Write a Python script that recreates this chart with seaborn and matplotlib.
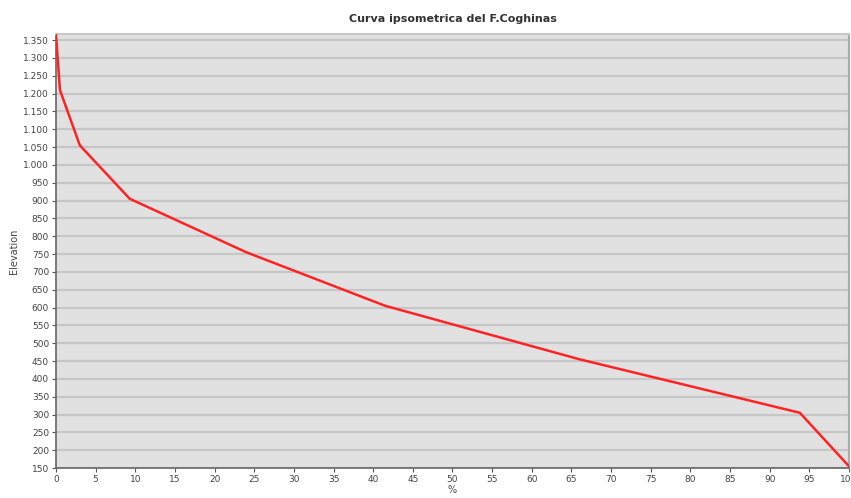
import matplotlib
matplotlib.use("Agg")
import matplotlib.pyplot as plt
import matplotlib.ticker as mticker
import numpy as np
import pandas as pd
import seaborn as sns

# Hypsometric curve of the Coghinas basin: share of area (%) above each elevation
area_pct = [0.0, 0.5, 3.0, 9.3, 24.0, 41.5, 66.0, 93.8, 100.0]
elevation = [1365, 1210, 1055, 905, 755, 605, 455, 305, 155]

x_ticks = list(range(0, 101, 5))
y_ticks = list(range(150, 1351, 50))

df = pd.DataFrame({"pct": area_pct, "elev": elevation})

sns.set_theme(style="white")
plt.rcParams["font.family"] = ["DejaVu Sans"]

fig = plt.figure(figsize=(8.51, 4.98), dpi=100)
ax = fig.add_axes([0.0658, 0.0602, 0.9318, 0.8715])
ax.set_facecolor("#e1e1e1")

for y in y_ticks:
    ax.axhline(y, color="#c6c6c6", lw=1.6, zorder=1)

sns.lineplot(data=df, x="pct", y="elev", ax=ax, color="#ff2222",
             lw=1.8, sort=False, zorder=3, clip_on=True)

ax.set_xlim(0, 100)
ax.set_ylim(150, 1367)
ax.set_xticks(x_ticks)
ax.set_yticks(y_ticks)
ax.yaxis.set_major_formatter(
    mticker.FuncFormatter(lambda v, _: f"{int(v):,}".replace(",", ".")))

ax.tick_params(axis="both", which="major", labelsize=6.5, colors="#555555",
               length=3, width=0.8, direction="out", pad=2,
               bottom=True, left=True)
for lbl in ax.get_xticklabels() + ax.get_yticklabels():
    lbl.set_color("#444444")

ax.set_xlabel("%", fontsize=7, color="#444444", labelpad=1)
ax.set_ylabel("Elevation", fontsize=7, color="#444444", labelpad=3)
ax.set_title("Curva ipsometrica del F.Coghinas", fontsize=8, fontweight="bold",
             color="#333333", pad=9)

ax.spines["left"].set_color("#666666")
ax.spines["left"].set_linewidth(1.2)
ax.spines["bottom"].set_color("#666666")
ax.spines["bottom"].set_linewidth(1.2)
ax.spines["top"].set_color("#c8c8c8")
ax.spines["top"].set_linewidth(1.5)
ax.spines["right"].set_color("#aaaaaa")
ax.spines["right"].set_linewidth(1.5)

fig.savefig("out.png", dpi=100)
